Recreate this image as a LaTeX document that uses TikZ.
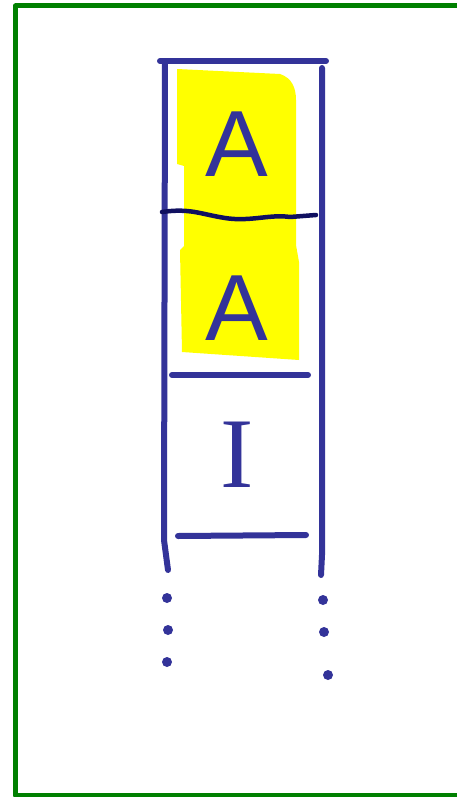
\documentclass[tikz,border=0pt]{standalone}
\usepackage{fontspec}
\setmainfont{Liberation Sans}
\newfontfamily\serifhand{Liberation Serif}
\definecolor{ink}{HTML}{333399}
\definecolor{navy}{HTML}{101060}
\definecolor{marker}{HTML}{FFFF00}
\definecolor{frame}{HTML}{008000}
\begin{document}
\begin{tikzpicture}[x=1pt,y=-1pt,line cap=round,line join=round,
  pen/.style={draw=ink,line width=6pt},
  letter/.style={text=ink,inner sep=0pt,font=\fontsize{94}{94}\selectfont},
  blot/.style={fill=ink}]
\useasboundingbox (0,0) rectangle (457,797);
\draw[frame,line width=5pt,line cap=butt] (460,6) -- (15.5,6) -- (15.5,795) -- (460,795);
\fill[marker] (177,69) -- (280,74) .. controls (292,78) and (296,88) .. (296,100) -- (296,245) -- (299,262) -- (299,360) -- (182,352) -- (180,250) -- (184,246) -- (184,166) -- (177,164) -- cycle;
\draw[pen] (160,61) -- (326,61);
\draw[pen] (165,62) -- (164,540) -- (168,570);
\draw[pen] (322,68) -- (322,555) -- (321,575);
\draw[pen] (172,375) -- (308,375);
\draw[pen] (178,536) -- (306,535);
\draw[navy,line width=4.5pt] (162,212) .. controls (190,208) and (200,214) .. (225,218) .. controls (250,222) and (270,214) .. (290,217) -- (316,215);
\node[letter] (upperA) at (237,144) {A};
\node[letter] (lowerA) at (237,308) {A};
\node[letter,font=\serifhand\fontsize{100}{100}\selectfont] (markI) at (237,455) {I};
\foreach \px/\py in {167/598,168/630,167/662,323/600,324/632,328/675}
  \fill[blot] (\px,\py) circle (5);
\end{tikzpicture}
\end{document}
